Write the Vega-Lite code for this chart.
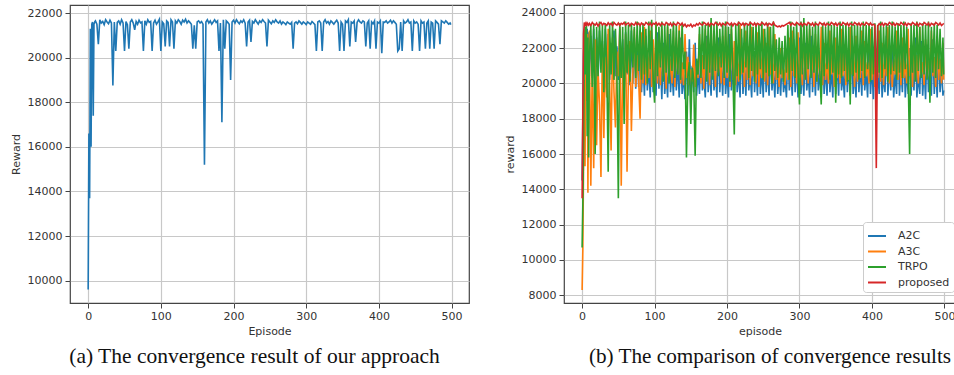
{
"$schema":"https://vega.github.io/schema/vega-lite/v6.json",
"background":"white",
"padding":{"left":9,"top":4,"right":0,"bottom":0},
"spacing":33,
"config":{
 "font":"DejaVu Sans",
 "view":{"stroke":"#444","strokeWidth":1.2},
 "axis":{"labelFont":"DejaVu Sans","labelFontSize":11,"labelColor":"#333","titleFont":"DejaVu Sans","titleFontSize":11,"titleFontWeight":"normal","titleColor":"#333","domain":false,"tickColor":"#444","tickSize":5,"labelPadding":3,"gridColor":"#c8c8c8","gridWidth":1.2,"gridOpacity":1}
},
"datasets":{"d":[
{"e":0,"o":9600,"A2C":14500,"A3C":8300,"TRPO":10700,"proposed":13500},
{"e":1,"o":16600,"A2C":18000,"A3C":10600,"TRPO":13200,"proposed":18500},
{"e":2,"o":13700,"A2C":21500,"A3C":15500,"TRPO":16500,"proposed":22800},
{"e":3,"o":21300,"A2C":23000,"A3C":20200,"TRPO":21800,"proposed":23450},
{"e":4,"o":16000,"A2C":22200,"A3C":15300,"TRPO":23200,"proposed":23300},
{"e":5,"o":21500,"A2C":23200,"A3C":21500,"TRPO":20500,"proposed":23400},
{"e":6,"o":21600,"A2C":20600,"A3C":19000,"TRPO":23300,"proposed":23250},
{"e":7,"o":17400,"A2C":23100,"A3C":22800,"TRPO":17000,"proposed":23420},
{"e":8,"o":21500,"A2C":21200,"A3C":13800,"TRPO":22600,"proposed":23350},
{"e":9,"o":21600,"A2C":22900,"A3C":20800,"TRPO":15800,"proposed":23300},
{"e":10,"o":21650,"A2C":20400,"A3C":23000,"TRPO":21500,"proposed":23400},
{"e":12,"o":21500,"A2C":22700,"A3C":14200,"TRPO":23300,"proposed":23280},
{"e":14,"o":20600,"A2C":20300,"A3C":21000,"TRPO":19800,"proposed":23450},
{"e":16,"o":21700,"A2C":23100,"A3C":15200,"TRPO":23400,"proposed":23350},
{"e":18,"o":21550,"A2C":20800,"A3C":22500,"TRPO":16000,"proposed":23300},
{"e":20,"o":21620,"A2C":22600,"A3C":16500,"TRPO":23200,"proposed":23420},
{"e":22,"o":21480,"A2C":20200,"A3C":20800,"TRPO":20400,"proposed":23250},
{"e":24,"o":21700,"A2C":23000,"A3C":18800,"TRPO":23500,"proposed":23380},
{"e":26,"o":21600,"A2C":21000,"A3C":14700,"TRPO":20600,"proposed":23450},
{"e":28,"o":21520,"A2C":22400,"A3C":22200,"TRPO":23300,"proposed":23300},
{"e":30,"o":21680,"A2C":20300,"A3C":16900,"TRPO":19500,"proposed":23400},
{"e":32,"o":21550,"A2C":23100,"A3C":21500,"TRPO":23400,"proposed":23350},
{"e":34,"o":18750,"A2C":20600,"A3C":19200,"TRPO":21000,"proposed":23280},
{"e":36,"o":21600,"A2C":22800,"A3C":23100,"TRPO":15000,"proposed":23430},
{"e":38,"o":20300,"A2C":20200,"A3C":20000,"TRPO":23300,"proposed":23320},
{"e":40,"o":21580,"A2C":22300,"A3C":16200,"TRPO":20500,"proposed":23400},
{"e":42,"o":21650,"A2C":20700,"A3C":22600,"TRPO":23500,"proposed":23260},
{"e":44,"o":21500,"A2C":23000,"A3C":19500,"TRPO":20200,"proposed":23450},
{"e":46,"o":21700,"A2C":20400,"A3C":17500,"TRPO":23100,"proposed":23350},
{"e":48,"o":21560,"A2C":22100,"A3C":21800,"TRPO":20800,"proposed":23300},
{"e":50,"o":20300,"A2C":20200,"A3C":20400,"TRPO":13500,"proposed":23420},
{"e":52,"o":21620,"A2C":23100,"A3C":23200,"TRPO":23400,"proposed":23280},
{"e":54,"o":21480,"A2C":20600,"A3C":14200,"TRPO":20300,"proposed":23400},
{"e":56,"o":20400,"A2C":22500,"A3C":21000,"TRPO":23200,"proposed":23350},
{"e":58,"o":21600,"A2C":20100,"A3C":19600,"TRPO":17700,"proposed":23450},
{"e":60,"o":21700,"A2C":22900,"A3C":22800,"TRPO":23500,"proposed":23300},
{"e":62,"o":21550,"A2C":20500,"A3C":15000,"TRPO":20600,"proposed":23380},
{"e":64,"o":21250,"A2C":21800,"A3C":20900,"TRPO":23300,"proposed":23420},
{"e":66,"o":21620,"A2C":19900,"A3C":22400,"TRPO":20100,"proposed":23260},
{"e":68,"o":21500,"A2C":23000,"A3C":17300,"TRPO":23400,"proposed":23400},
{"e":70,"o":21680,"A2C":20000,"A3C":20600,"TRPO":20900,"proposed":23350},
{"e":72,"o":21560,"A2C":22600,"A3C":23100,"TRPO":23200,"proposed":23300},
{"e":74,"o":21600,"A2C":19700,"A3C":19800,"TRPO":20300,"proposed":23450},
{"e":76,"o":20300,"A2C":22200,"A3C":21600,"TRPO":23500,"proposed":23320},
{"e":78,"o":21650,"A2C":19800,"A3C":20200,"TRPO":20700,"proposed":23400},
{"e":80,"o":21500,"A2C":23000,"A3C":18000,"TRPO":23300,"proposed":23280},
{"e":82,"o":21700,"A2C":19500,"A3C":22900,"TRPO":20200,"proposed":23420},
{"e":84,"o":21580,"A2C":21400,"A3C":20000,"TRPO":23400,"proposed":23350},
{"e":86,"o":21620,"A2C":19300,"A3C":23200,"TRPO":20500,"proposed":23300},
{"e":88,"o":20300,"A2C":22700,"A3C":19900,"TRPO":23100,"proposed":23450},
{"e":90,"o":21550,"A2C":19600,"A3C":21900,"TRPO":20000,"proposed":23380},
{"e":92,"o":21680,"A2C":21000,"A3C":20300,"TRPO":23500,"proposed":23300},
{"e":94,"o":21500,"A2C":19200,"A3C":23000,"TRPO":20800,"proposed":23420},
{"e":96,"o":21600,"A2C":22400,"A3C":19800,"TRPO":23600,"proposed":23260},
{"e":98,"o":21720,"A2C":19500,"A3C":22500,"TRPO":20300,"proposed":23400},
{"e":100,"o":20300,"A2C":20800,"A3C":20100,"TRPO":18900,"proposed":23350},
{"e":102,"o":21600,"A2C":19300,"A3C":23300,"TRPO":23400,"proposed":23450},
{"e":104,"o":21520,"A2C":22900,"A3C":20000,"TRPO":20400,"proposed":23300},
{"e":106,"o":20500,"A2C":19700,"A3C":21700,"TRPO":23200,"proposed":23400},
{"e":108,"o":21650,"A2C":21500,"A3C":19900,"TRPO":20900,"proposed":23280},
{"e":110,"o":21580,"A2C":19100,"A3C":23100,"TRPO":23500,"proposed":23420},
{"e":112,"o":20500,"A2C":22300,"A3C":20400,"TRPO":20100,"proposed":23350},
{"e":114,"o":21700,"A2C":19400,"A3C":22000,"TRPO":23300,"proposed":23300},
{"e":116,"o":21600,"A2C":20600,"A3C":19700,"TRPO":20600,"proposed":23450},
{"e":118,"o":20400,"A2C":19200,"A3C":23200,"TRPO":23400,"proposed":23380},
{"e":120,"o":21650,"A2C":22800,"A3C":20200,"TRPO":20000,"proposed":23300},
{"e":122,"o":21550,"A2C":19500,"A3C":21400,"TRPO":23100,"proposed":23420},
{"e":124,"o":21700,"A2C":20900,"A3C":20000,"TRPO":20700,"proposed":23260},
{"e":126,"o":21620,"A2C":19300,"A3C":23000,"TRPO":23500,"proposed":23400},
{"e":128,"o":21500,"A2C":22100,"A3C":19800,"TRPO":20300,"proposed":23350},
{"e":130,"o":21680,"A2C":19600,"A3C":22600,"TRPO":23300,"proposed":23300},
{"e":132,"o":21600,"A2C":21200,"A3C":20500,"TRPO":20500,"proposed":23450},
{"e":134,"o":21720,"A2C":19200,"A3C":23300,"TRPO":23000,"proposed":23380},
{"e":136,"o":21550,"A2C":22600,"A3C":20000,"TRPO":20200,"proposed":23300},
{"e":138,"o":21650,"A2C":19400,"A3C":21200,"TRPO":23400,"proposed":23420},
{"e":140,"o":21580,"A2C":20500,"A3C":19900,"TRPO":20800,"proposed":23250},
{"e":142,"o":21500,"A2C":19100,"A3C":22800,"TRPO":21800,"proposed":23350},
{"e":144,"o":20400,"A2C":21800,"A3C":20300,"TRPO":15800,"proposed":23200},
{"e":146,"o":21450,"A2C":19300,"A3C":21500,"TRPO":20400,"proposed":23300},
{"e":148,"o":20400,"A2C":22500,"A3C":19900,"TRPO":21200,"proposed":23250},
{"e":150,"o":21600,"A2C":19200,"A3C":20800,"TRPO":17700,"proposed":23350},
{"e":152,"o":21650,"A2C":21000,"A3C":20100,"TRPO":20900,"proposed":23200},
{"e":154,"o":21550,"A2C":19500,"A3C":22200,"TRPO":20200,"proposed":23300},
{"e":156,"o":21620,"A2C":22300,"A3C":19800,"TRPO":15900,"proposed":23250},
{"e":158,"o":21500,"A2C":19300,"A3C":21000,"TRPO":21400,"proposed":23380},
{"e":160,"o":15200,"A2C":20700,"A3C":20300,"TRPO":20500,"proposed":23300},
{"e":162,"o":21600,"A2C":19400,"A3C":22800,"TRPO":23200,"proposed":23420},
{"e":164,"o":21700,"A2C":22200,"A3C":20000,"TRPO":20300,"proposed":23350},
{"e":166,"o":21550,"A2C":19600,"A3C":21600,"TRPO":23500,"proposed":23300},
{"e":168,"o":21650,"A2C":20400,"A3C":19700,"TRPO":20800,"proposed":23450},
{"e":170,"o":21500,"A2C":19200,"A3C":23100,"TRPO":23300,"proposed":23380},
{"e":172,"o":21600,"A2C":22700,"A3C":20200,"TRPO":20100,"proposed":23300},
{"e":174,"o":21700,"A2C":19500,"A3C":21800,"TRPO":23400,"proposed":23420},
{"e":176,"o":21580,"A2C":20900,"A3C":19900,"TRPO":20600,"proposed":23260},
{"e":178,"o":21650,"A2C":19300,"A3C":23300,"TRPO":23700,"proposed":23400},
{"e":180,"o":20300,"A2C":22100,"A3C":20400,"TRPO":20200,"proposed":23350},
{"e":182,"o":21550,"A2C":19600,"A3C":22000,"TRPO":23300,"proposed":23300},
{"e":184,"o":17100,"A2C":20800,"A3C":19800,"TRPO":20700,"proposed":23450},
{"e":186,"o":21700,"A2C":19200,"A3C":23000,"TRPO":23500,"proposed":23380},
{"e":188,"o":20400,"A2C":22600,"A3C":20600,"TRPO":20400,"proposed":23300},
{"e":190,"o":21650,"A2C":19500,"A3C":21500,"TRPO":23100,"proposed":23420},
{"e":192,"o":21580,"A2C":21300,"A3C":20000,"TRPO":20900,"proposed":23260},
{"e":194,"o":21500,"A2C":19300,"A3C":22700,"TRPO":23400,"proposed":23400},
{"e":196,"o":19000,"A2C":22000,"A3C":19900,"TRPO":20300,"proposed":23350},
{"e":198,"o":21600,"A2C":19400,"A3C":23200,"TRPO":23500,"proposed":23300},
{"e":200,"o":21680,"A2C":20600,"A3C":20300,"TRPO":20600,"proposed":23450},
{"e":202,"o":21550,"A2C":19200,"A3C":21900,"TRPO":23200,"proposed":23380},
{"e":204,"o":21700,"A2C":22800,"A3C":19800,"TRPO":20100,"proposed":23300},
{"e":206,"o":21600,"A2C":19600,"A3C":23100,"TRPO":23400,"proposed":23420},
{"e":208,"o":21520,"A2C":21000,"A3C":20200,"TRPO":20800,"proposed":23260},
{"e":210,"o":21650,"A2C":19300,"A3C":22400,"TRPO":17100,"proposed":23400},
{"e":212,"o":21580,"A2C":22400,"A3C":19900,"TRPO":23300,"proposed":23350},
{"e":214,"o":21700,"A2C":19500,"A3C":21300,"TRPO":20400,"proposed":23300},
{"e":216,"o":21550,"A2C":20700,"A3C":20100,"TRPO":23500,"proposed":23450},
{"e":218,"o":20500,"A2C":19200,"A3C":23300,"TRPO":20200,"proposed":23380},
{"e":220,"o":21600,"A2C":22600,"A3C":20500,"TRPO":23100,"proposed":23300},
{"e":222,"o":21680,"A2C":19400,"A3C":21800,"TRPO":20600,"proposed":23420},
{"e":224,"o":20700,"A2C":21200,"A3C":19800,"TRPO":23400,"proposed":23260},
{"e":226,"o":21620,"A2C":19300,"A3C":23000,"TRPO":20900,"proposed":23400},
{"e":228,"o":21550,"A2C":22000,"A3C":20200,"TRPO":23300,"proposed":23350},
{"e":230,"o":21700,"A2C":19600,"A3C":22100,"TRPO":20300,"proposed":23300},
{"e":232,"o":21600,"A2C":20500,"A3C":19900,"TRPO":23500,"proposed":23450},
{"e":234,"o":21500,"A2C":19200,"A3C":23200,"TRPO":20700,"proposed":23380},
{"e":236,"o":21650,"A2C":22700,"A3C":20400,"TRPO":23200,"proposed":23300},
{"e":238,"o":21580,"A2C":19500,"A3C":21500,"TRPO":20100,"proposed":23420},
{"e":240,"o":21700,"A2C":21100,"A3C":20000,"TRPO":23400,"proposed":23260},
{"e":242,"o":21620,"A2C":19300,"A3C":22900,"TRPO":20500,"proposed":23400},
{"e":244,"o":21550,"A2C":22300,"A3C":19800,"TRPO":23300,"proposed":23350},
{"e":246,"o":20500,"A2C":19400,"A3C":21700,"TRPO":20800,"proposed":23300},
{"e":248,"o":21680,"A2C":20800,"A3C":20300,"TRPO":23500,"proposed":23450},
{"e":250,"o":21600,"A2C":19200,"A3C":23100,"TRPO":20200,"proposed":23380},
{"e":252,"o":21520,"A2C":22600,"A3C":20100,"TRPO":23100,"proposed":23300},
{"e":254,"o":21650,"A2C":19500,"A3C":22300,"TRPO":20600,"proposed":23420},
{"e":256,"o":21580,"A2C":21000,"A3C":19900,"TRPO":23400,"proposed":23260},
{"e":258,"o":21700,"A2C":19300,"A3C":23200,"TRPO":20400,"proposed":23400},
{"e":260,"o":21600,"A2C":22200,"A3C":20500,"TRPO":23200,"proposed":23350},
{"e":262,"o":21550,"A2C":19600,"A3C":21400,"TRPO":20000,"proposed":23300},
{"e":264,"o":21650,"A2C":20700,"A3C":20000,"TRPO":23500,"proposed":23450},
{"e":266,"o":21500,"A2C":19200,"A3C":22800,"TRPO":20700,"proposed":23300},
{"e":268,"o":21600,"A2C":21900,"A3C":20200,"TRPO":22500,"proposed":23250},
{"e":270,"o":21550,"A2C":19400,"A3C":21000,"TRPO":20300,"proposed":23200},
{"e":272,"o":21480,"A2C":20600,"A3C":19800,"TRPO":22600,"proposed":23250},
{"e":274,"o":21600,"A2C":19300,"A3C":22000,"TRPO":20500,"proposed":23200},
{"e":276,"o":21550,"A2C":21500,"A3C":20300,"TRPO":22400,"proposed":23280},
{"e":278,"o":21500,"A2C":19500,"A3C":20800,"TRPO":20100,"proposed":23250},
{"e":280,"o":21580,"A2C":20300,"A3C":19900,"TRPO":22700,"proposed":23300},
{"e":282,"o":20400,"A2C":19200,"A3C":21900,"TRPO":20600,"proposed":23350},
{"e":284,"o":21550,"A2C":22000,"A3C":20200,"TRPO":23300,"proposed":23400},
{"e":286,"o":21600,"A2C":19600,"A3C":22600,"TRPO":20200,"proposed":23450},
{"e":288,"o":21520,"A2C":20800,"A3C":19800,"TRPO":23500,"proposed":23300},
{"e":290,"o":21650,"A2C":19300,"A3C":23000,"TRPO":20700,"proposed":23420},
{"e":292,"o":21580,"A2C":22500,"A3C":20400,"TRPO":23200,"proposed":23350},
{"e":294,"o":21500,"A2C":19500,"A3C":21700,"TRPO":20300,"proposed":23300},
{"e":296,"o":21600,"A2C":21100,"A3C":20000,"TRPO":23400,"proposed":23450},
{"e":298,"o":21550,"A2C":19200,"A3C":22900,"TRPO":20600,"proposed":23380},
{"e":300,"o":21480,"A2C":22600,"A3C":20300,"TRPO":18800,"proposed":23300},
{"e":302,"o":21600,"A2C":19400,"A3C":21500,"TRPO":23500,"proposed":23420},
{"e":304,"o":21550,"A2C":20900,"A3C":19900,"TRPO":20500,"proposed":23260},
{"e":306,"o":21500,"A2C":19300,"A3C":23200,"TRPO":23700,"proposed":23400},
{"e":308,"o":21620,"A2C":22300,"A3C":20200,"TRPO":20200,"proposed":23350},
{"e":310,"o":21550,"A2C":19600,"A3C":22000,"TRPO":23300,"proposed":23300},
{"e":312,"o":21480,"A2C":20600,"A3C":20000,"TRPO":20800,"proposed":23450},
{"e":314,"o":20300,"A2C":19200,"A3C":23100,"TRPO":23400,"proposed":23380},
{"e":316,"o":21600,"A2C":22700,"A3C":20500,"TRPO":20300,"proposed":23300},
{"e":318,"o":21650,"A2C":19500,"A3C":21600,"TRPO":23200,"proposed":23420},
{"e":320,"o":21550,"A2C":21200,"A3C":19800,"TRPO":20600,"proposed":23260},
{"e":322,"o":20300,"A2C":19300,"A3C":22800,"TRPO":23500,"proposed":23400},
{"e":324,"o":21600,"A2C":22100,"A3C":20100,"TRPO":20100,"proposed":23350},
{"e":326,"o":21700,"A2C":19600,"A3C":21900,"TRPO":23300,"proposed":23300},
{"e":328,"o":21550,"A2C":20700,"A3C":20300,"TRPO":20700,"proposed":23450},
{"e":330,"o":21620,"A2C":19200,"A3C":23200,"TRPO":18800,"proposed":23380},
{"e":332,"o":21500,"A2C":22500,"A3C":19900,"TRPO":23400,"proposed":23300},
{"e":334,"o":21650,"A2C":19400,"A3C":22300,"TRPO":20400,"proposed":23420},
{"e":336,"o":21580,"A2C":21000,"A3C":20200,"TRPO":23200,"proposed":23260},
{"e":338,"o":21500,"A2C":19300,"A3C":21400,"TRPO":20800,"proposed":23400},
{"e":340,"o":21600,"A2C":22300,"A3C":20000,"TRPO":23500,"proposed":23350},
{"e":342,"o":21680,"A2C":19500,"A3C":23000,"TRPO":20200,"proposed":23300},
{"e":344,"o":21550,"A2C":20800,"A3C":20500,"TRPO":23300,"proposed":23450},
{"e":346,"o":20300,"A2C":19200,"A3C":21800,"TRPO":20600,"proposed":23380},
{"e":348,"o":21600,"A2C":22600,"A3C":19800,"TRPO":23400,"proposed":23300},
{"e":350,"o":21500,"A2C":19400,"A3C":22600,"TRPO":18900,"proposed":23420},
{"e":352,"o":20300,"A2C":21300,"A3C":20300,"TRPO":23200,"proposed":23260},
{"e":354,"o":21650,"A2C":19300,"A3C":21500,"TRPO":20500,"proposed":23400},
{"e":356,"o":21580,"A2C":22000,"A3C":20000,"TRPO":23500,"proposed":23350},
{"e":358,"o":21700,"A2C":19600,"A3C":23100,"TRPO":20300,"proposed":23300},
{"e":360,"o":20500,"A2C":20500,"A3C":20400,"TRPO":23300,"proposed":23450},
{"e":362,"o":21600,"A2C":19200,"A3C":22200,"TRPO":20700,"proposed":23380},
{"e":364,"o":21550,"A2C":22400,"A3C":19900,"TRPO":23400,"proposed":23300},
{"e":366,"o":21650,"A2C":19500,"A3C":21300,"TRPO":20100,"proposed":23420},
{"e":368,"o":20700,"A2C":21100,"A3C":20200,"TRPO":23200,"proposed":23260},
{"e":370,"o":21580,"A2C":19300,"A3C":23200,"TRPO":18800,"proposed":23400},
{"e":372,"o":21700,"A2C":22700,"A3C":20500,"TRPO":23500,"proposed":23350},
{"e":374,"o":21600,"A2C":19400,"A3C":21900,"TRPO":20400,"proposed":23300},
{"e":376,"o":21550,"A2C":20600,"A3C":19800,"TRPO":23300,"proposed":23450},
{"e":378,"o":21650,"A2C":19200,"A3C":22700,"TRPO":20600,"proposed":23380},
{"e":380,"o":21600,"A2C":22200,"A3C":20100,"TRPO":23400,"proposed":23300},
{"e":382,"o":20500,"A2C":19500,"A3C":21600,"TRPO":20200,"proposed":23420},
{"e":384,"o":21550,"A2C":21000,"A3C":20300,"TRPO":23200,"proposed":23260},
{"e":386,"o":21650,"A2C":19300,"A3C":23000,"TRPO":20700,"proposed":23400},
{"e":388,"o":20400,"A2C":22500,"A3C":19900,"TRPO":23500,"proposed":23350},
{"e":390,"o":21600,"A2C":19600,"A3C":22400,"TRPO":20300,"proposed":23300},
{"e":392,"o":21520,"A2C":20700,"A3C":20400,"TRPO":23300,"proposed":23450},
{"e":394,"o":21650,"A2C":19200,"A3C":21200,"TRPO":20800,"proposed":23380},
{"e":396,"o":20400,"A2C":22300,"A3C":20000,"TRPO":23400,"proposed":23300},
{"e":398,"o":21600,"A2C":19400,"A3C":23100,"TRPO":20100,"proposed":23420},
{"e":400,"o":21550,"A2C":21000,"A3C":20200,"TRPO":23200,"proposed":23300},
{"e":402,"o":21650,"A2C":19100,"A3C":22000,"TRPO":20500,"proposed":23350},
{"e":404,"o":20200,"A2C":22600,"A3C":19800,"TRPO":23400,"proposed":23300},
{"e":406,"o":21600,"A2C":19300,"A3C":21500,"TRPO":20200,"proposed":15200},
{"e":408,"o":21580,"A2C":20800,"A3C":20300,"TRPO":23300,"proposed":23250},
{"e":410,"o":21650,"A2C":19400,"A3C":23000,"TRPO":20600,"proposed":23380},
{"e":412,"o":21550,"A2C":22200,"A3C":20100,"TRPO":23500,"proposed":23300},
{"e":414,"o":21600,"A2C":19200,"A3C":22300,"TRPO":20300,"proposed":23420},
{"e":416,"o":21680,"A2C":20500,"A3C":19900,"TRPO":23200,"proposed":23260},
{"e":418,"o":21550,"A2C":19500,"A3C":21700,"TRPO":20800,"proposed":23400},
{"e":420,"o":21650,"A2C":22700,"A3C":20400,"TRPO":23400,"proposed":23350},
{"e":422,"o":21580,"A2C":19300,"A3C":23200,"TRPO":20100,"proposed":23300},
{"e":424,"o":21500,"A2C":21100,"A3C":20000,"TRPO":23300,"proposed":23450},
{"e":426,"o":20300,"A2C":19600,"A3C":22100,"TRPO":20500,"proposed":23380},
{"e":428,"o":20400,"A2C":22100,"A3C":19800,"TRPO":23500,"proposed":23300},
{"e":430,"o":21600,"A2C":19200,"A3C":21400,"TRPO":20700,"proposed":23420},
{"e":432,"o":20300,"A2C":20600,"A3C":20500,"TRPO":23200,"proposed":23260},
{"e":434,"o":21650,"A2C":19400,"A3C":23000,"TRPO":20200,"proposed":23400},
{"e":436,"o":21550,"A2C":22500,"A3C":20200,"TRPO":23400,"proposed":23350},
{"e":438,"o":21600,"A2C":19300,"A3C":21800,"TRPO":20600,"proposed":23300},
{"e":440,"o":21700,"A2C":20900,"A3C":19900,"TRPO":23300,"proposed":23450},
{"e":442,"o":21550,"A2C":19500,"A3C":22600,"TRPO":20300,"proposed":23380},
{"e":444,"o":21600,"A2C":22300,"A3C":20300,"TRPO":23500,"proposed":23300},
{"e":446,"o":20300,"A2C":19200,"A3C":21300,"TRPO":20800,"proposed":23420},
{"e":448,"o":21650,"A2C":20700,"A3C":20000,"TRPO":23200,"proposed":23260},
{"e":450,"o":21550,"A2C":19400,"A3C":23100,"TRPO":20400,"proposed":23400},
{"e":452,"o":21600,"A2C":22000,"A3C":20400,"TRPO":16000,"proposed":23350},
{"e":454,"o":21500,"A2C":19300,"A3C":21900,"TRPO":23400,"proposed":23300},
{"e":456,"o":20300,"A2C":21200,"A3C":19800,"TRPO":20600,"proposed":23450},
{"e":458,"o":21650,"A2C":19600,"A3C":22800,"TRPO":23300,"proposed":23380},
{"e":460,"o":21550,"A2C":22600,"A3C":20200,"TRPO":20100,"proposed":23300},
{"e":462,"o":21600,"A2C":19200,"A3C":21600,"TRPO":23500,"proposed":23420},
{"e":464,"o":20400,"A2C":20500,"A3C":20000,"TRPO":20700,"proposed":23260},
{"e":466,"o":21550,"A2C":19400,"A3C":23200,"TRPO":23200,"proposed":23400},
{"e":468,"o":21650,"A2C":22400,"A3C":20500,"TRPO":20300,"proposed":23350},
{"e":470,"o":20400,"A2C":19300,"A3C":21200,"TRPO":23400,"proposed":23300},
{"e":472,"o":21600,"A2C":20900,"A3C":19900,"TRPO":20500,"proposed":23450},
{"e":474,"o":21550,"A2C":19100,"A3C":22500,"TRPO":23300,"proposed":23380},
{"e":476,"o":20400,"A2C":22200,"A3C":20300,"TRPO":20200,"proposed":23300},
{"e":478,"o":21650,"A2C":19500,"A3C":21800,"TRPO":23500,"proposed":23420},
{"e":480,"o":21580,"A2C":20600,"A3C":20100,"TRPO":18900,"proposed":23260},
{"e":482,"o":21500,"A2C":19300,"A3C":23000,"TRPO":23200,"proposed":23400},
{"e":484,"o":20600,"A2C":22500,"A3C":20400,"TRPO":20600,"proposed":23350},
{"e":486,"o":21650,"A2C":19400,"A3C":21500,"TRPO":23400,"proposed":23300},
{"e":488,"o":21600,"A2C":21100,"A3C":19800,"TRPO":20300,"proposed":23450},
{"e":490,"o":21550,"A2C":19200,"A3C":22700,"TRPO":23300,"proposed":23380},
{"e":492,"o":21650,"A2C":22000,"A3C":20200,"TRPO":20800,"proposed":23300},
{"e":494,"o":21580,"A2C":19500,"A3C":21400,"TRPO":23100,"proposed":23420},
{"e":496,"o":21500,"A2C":20800,"A3C":20000,"TRPO":20400,"proposed":23280},
{"e":498,"o":21550,"A2C":19300,"A3C":22300,"TRPO":22600,"proposed":23350},
{"e":499,"o":21480,"A2C":19600,"A3C":20200,"TRPO":20500,"proposed":23400}
]},
"hconcat":[
{
 "width":399,"height":298,
 "data":{"name":"d"},
 "title":{"text":"(a) The convergence result of our approach","orient":"bottom","font":"Liberation Serif","fontSize":21.5,"fontWeight":"normal","color":"#111","frame":"group","anchor":"middle","dx":-15,"offset":10},
 "mark":{"type":"line","color":"#1f77b4","strokeWidth":1.6,"clip":true},
 "encoding":{
  "x":{"field":"e","type":"quantitative","scale":{"domain":[-25,524],"nice":false,"zero":false},"axis":{"values":[0,100,200,300,400,500],"title":"Episode","labelPadding":2,"titlePadding":4,"format":"d"}},
  "y":{"field":"o","type":"quantitative","scale":{"domain":[9000,22360],"nice":false,"zero":false},"axis":{"values":[10000,12000,14000,16000,18000,20000,22000],"title":"Reward","titlePadding":6,"format":"d"}}
 }
},
{
 "width":392,"height":298,
 "data":{"name":"d"},
 "transform":[{"fold":["A2C","A3C","TRPO","proposed"],"as":["key","r"]}],
 "title":{"text":"(b) The comparison of convergence results","orient":"bottom","font":"Liberation Serif","fontSize":21.2,"fontWeight":"normal","color":"#111","frame":"group","anchor":"middle","dx":10,"offset":10},
 "mark":{"type":"line","strokeWidth":1.6,"clip":true},
 "encoding":{
  "x":{"field":"e","type":"quantitative","scale":{"domain":[-25,516],"nice":false,"zero":false},"axis":{"values":[0,100,200,300,400,500],"title":"episode","labelPadding":2,"titlePadding":4,"format":"d"}},
  "y":{"field":"r","type":"quantitative","scale":{"domain":[7560,24440],"nice":false,"zero":false},"axis":{"values":[8000,10000,12000,14000,16000,18000,20000,22000,24000],"title":"reward","titlePadding":6,"format":"d"}},
  "color":{"field":"key","type":"nominal","scale":{"domain":["A2C","A3C","TRPO","proposed"],"range":["#1f77b4","#ff7f0e","#2ca02c","#d62728"]},
   "legend":{"title":null,"orient":"none","legendX":793,"legendY":217,"symbolType":"stroke","symbolStrokeWidth":2,"symbolSize":324,"labelFontSize":11,"labelFont":"DejaVu Sans","labelColor":"#333","labelOffset":11,"fillColor":"white","strokeColor":"#ccc","padding":4,"cornerRadius":3,"rowPadding":0.5}}
 }
}
]
}
